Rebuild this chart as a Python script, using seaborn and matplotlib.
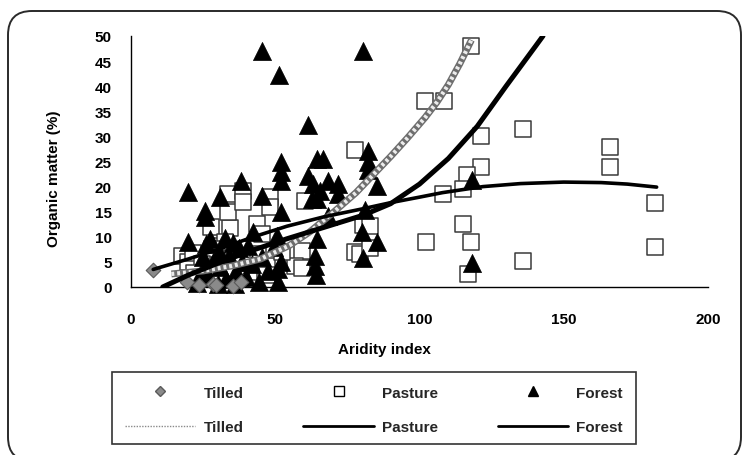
import matplotlib
matplotlib.use("Agg")
import matplotlib.pyplot as plt
from matplotlib.patches import FancyBboxPatch, Rectangle
from matplotlib.lines import Line2D
from matplotlib.transforms import IdentityTransform
import pandas as pd
import seaborn as sns

# ---- observations: aridity index vs organic matter (%) ----
tilled_x = [7.5, 19.5, 23.5, 28.5, 29.5, 35.5, 38.0]
tilled_y = [3.4, 0.9, 0.4, 0.6, 0.3, 0.2, 1.0]

pasture_x = [118.0, 102.0, 108.5, 121.3, 135.9, 121.3, 116.4, 115.1, 108.3, 115.1,
             102.2, 118.0, 116.7, 135.9, 166.0, 166.0, 181.6, 181.6,
             77.8, 77.8, 79.3, 80.3, 82.8, 82.8, 60.2, 59.2, 56.9, 59.3,
             17.6, 19.6, 21.5, 27.6, 34.4, 33.7, 33.7, 38.9, 38.9, 43.8,
             48.2, 48.2, 45.5, 29.7, 32.6, 28.0, 47.0, 47.0, 24.5, 36.5,
             41.0, 44.0, 52.5, 22.0, 38.0]
pasture_y = [48.1, 37.0, 37.0, 30.0, 31.4, 24.0, 22.3, 19.6, 18.6, 12.6,
             9.0, 9.0, 2.5, 5.1, 27.8, 23.9, 16.8, 7.9,
             27.3, 7.0, 6.5, 12.3, 12.2, 7.8, 17.2, 7.2, 4.2, 3.8,
             6.2, 5.0, 6.8, 11.9, 11.8, 14.9, 18.5, 19.2, 16.9, 12.5,
             17.9, 15.9, 10.6, 8.2, 8.9, 7.6, 4.2, 2.3, 4.5, 5.5,
             3.0, 6.5, 7.0, 2.8, 1.5]

forest_x = [45.3, 80.3, 51.2, 61.5,
            19.6, 25.6, 25.6, 30.8, 38.0, 45.5, 52.0, 52.0, 52.0, 52.0, 42.4, 19.6, 50.5,
            61.5, 63.2, 64.4, 66.7, 68.4, 71.9, 71.9, 65.5, 64.4, 62.6, 68.4,
            82.3, 82.3, 82.3, 85.2, 81.1, 80.2, 85.2, 80.5,
            64.4, 63.8, 63.8, 64.0, 118.3, 118.3,
            23.0, 24.5, 25.0, 26.0, 27.0, 28.5, 30.5, 31.0, 33.0, 34.0,
            35.5, 36.5, 37.5, 38.5, 40.0, 40.5, 42.0, 44.5, 45.5, 47.5,
            51.0, 51.0, 52.0, 49.5, 30.0, 36.0, 27.5, 32.5]
forest_y = [47.0, 47.0, 42.2, 32.2,
            18.9, 15.2, 13.9, 17.9, 21.2, 18.2, 25.0, 22.9, 21.2, 15.0, 10.9, 8.9, 10.2,
            22.2, 20.5, 25.5, 25.5, 21.2, 20.5, 18.5, 19.2, 17.5, 17.5, 14.2,
            27.0, 25.0, 23.3, 20.2, 15.3, 10.9, 9.0, 5.8,
            9.6, 6.2, 4.2, 2.3, 21.3, 4.8,
            0.8, 3.2, 6.0, 8.6, 2.0, 5.0, 7.0, 4.0, 1.5, 6.2,
            8.8, 3.2, 7.8, 5.0, 2.0, 8.2, 4.5, 1.0, 6.0, 3.2,
            0.9, 3.6, 5.0, 8.0, 0.5, 0.6, 9.5, 9.8]

# ---- trend curves ----
tilled_fit_x = [14, 25, 35, 45, 55, 62, 70, 78, 84, 90, 96, 102, 106, 110, 114, 118]
tilled_fit_y = [2.6, 3.2, 4.2, 5.6, 8.3, 11.0, 14.8, 18.8, 22.4, 26.0, 29.8, 33.8, 36.8, 40.3, 44.5, 49.2]

pasture_fit_x = [7.7, 20, 30.8, 42, 54, 67, 80.5, 90, 100, 108, 122, 135, 150, 163, 172, 182.2]
pasture_fit_y = [3.5, 5.6, 7.6, 9.9, 12.1, 14.0, 15.6, 16.8, 17.9, 18.8, 20.0, 20.6, 20.9, 20.8, 20.5, 19.9]

forest_fit_x = [11, 20, 30.8, 42, 54, 67, 80.5, 90, 100, 110, 120, 130, 140, 142.8]
forest_fit_y = [0.0, 2.4, 4.9, 7.3, 9.6, 11.9, 14.3, 16.6, 20.5, 25.6, 32.0, 40.0, 47.8, 50.0]

x_ticks = [0, 50, 100, 150, 200]
y_ticks = [0, 5, 10, 15, 20, 25, 30, 35, 40, 45, 50]

sns.set_theme(style="white")
plt.rcParams['font.family'] = ['Liberation Sans', 'DejaVu Sans']
plt.rcParams['font.weight'] = 'bold'

W, H = 742, 456
fig = plt.figure(figsize=(W / 100, H / 100), dpi=100)
fig.patch.set_facecolor('white')
ax = fig.add_axes([131 / W, 1 - 288 / H, 577 / W, 251 / H])
ax.set_facecolor('white')

# scatter series
sns.scatterplot(x=pasture_x, y=pasture_y, marker='s', s=145, color='white',
                edgecolor='#3a3a3a', linewidth=1.1, ax=ax, clip_on=False, zorder=2)
sns.scatterplot(x=forest_x, y=forest_y, marker='^', s=170, color='black',
                edgecolor='black', linewidth=0.5, ax=ax, clip_on=False, zorder=3)
sns.scatterplot(x=tilled_x, y=tilled_y, marker='D', s=55, color='#8a8a8a',
                edgecolor='#5a5a5a', linewidth=0.8, ax=ax, clip_on=False, zorder=4)

# trend curves
sns.lineplot(x=tilled_fit_x, y=tilled_fit_y, sort=False, estimator=None,
             color='#6e6e6e', lw=5, ax=ax, zorder=5, solid_capstyle='butt')
sns.lineplot(x=tilled_fit_x, y=tilled_fit_y, sort=False, estimator=None,
             color='#ececec', lw=3, ax=ax, zorder=5.1, linestyle=(0, (0.7, 0.7)))
sns.lineplot(x=pasture_fit_x, y=pasture_fit_y, sort=False, estimator=None,
             color='black', lw=2.6, ax=ax, zorder=6, solid_capstyle='round')
sns.lineplot(x=forest_fit_x, y=forest_fit_y, sort=False, estimator=None,
             color='black', lw=3.6, ax=ax, zorder=6, solid_capstyle='round')

ax.set_xlim(0, 200)
ax.set_ylim(0, 50)
ax.set_xticks(x_ticks)
ax.set_yticks(y_ticks)
ax.set_xticklabels([str(v) for v in x_ticks])
ax.set_yticklabels([str(v) for v in y_ticks])
for s in ['top', 'right']:
    ax.spines[s].set_visible(False)
for s in ['left', 'bottom']:
    ax.spines[s].set_color('black')
    ax.spines[s].set_linewidth(1.0)
ax.tick_params(axis='x', direction='out', length=4, width=1, color='black',
               pad=14, labelsize=11, labelcolor='black')
ax.tick_params(axis='y', direction='out', length=4, width=1, color='black',
               pad=10, labelsize=11, labelcolor='black')
for lab in ax.get_xticklabels() + ax.get_yticklabels():
    lab.set_fontweight('bold')
ax.grid(False)

ax.set_xlabel('Aridity index', fontsize=11, fontweight='bold', color='black')
ax.set_ylabel('Organic matter (%)', fontsize=11, fontweight='bold', color='black')
ax.xaxis.set_label_coords((384 - 131) / 577, (288 - 343) / 251)
ax.yaxis.set_label_coords((61 - 131) / 577, (288 - 179) / 251)

# legend
handles = [
    Line2D([], [], marker='D', ls='none', markersize=5, markerfacecolor='#8a8a8a',
           markeredgecolor='#5a5a5a'),
    Line2D([], [], color='#8a8a8a', lw=1, ls=(0, (1, 1))),
    Line2D([], [], marker='s', ls='none', markersize=7, markerfacecolor='white',
           markeredgecolor='black', markeredgewidth=1),
    Line2D([], [], color='black', lw=2),
    Line2D([], [], marker='^', ls='none', markersize=7, color='black'),
    Line2D([], [], color='black', lw=2),
]
labels = ['Tilled', 'Tilled', 'Pasture', 'Pasture', 'Forest', 'Forest']
fig.add_artist(Rectangle((112, H - 445), 524, 72, transform=IdentityTransform(),
                         facecolor='white', edgecolor='#333333', lw=1.2))
leg = fig.legend(handles, labels, ncol=3, loc='center',
                 bbox_to_anchor=(374 / W, 1 - 411 / H), frameon=False,
                 prop={'size': 11, 'weight': 'bold'}, handlelength=4.6,
                 handletextpad=0.55, columnspacing=3.9, labelspacing=1.35)

# rounded outer frame
fig.add_artist(FancyBboxPatch((8, -6), 733, H - 12 + 6,
                              boxstyle='round,pad=0,rounding_size=24',
                              transform=IdentityTransform(), facecolor='none',
                              edgecolor='#2a2a2a', lw=1.4))

fig.savefig('out.png', dpi=100, facecolor='white')
